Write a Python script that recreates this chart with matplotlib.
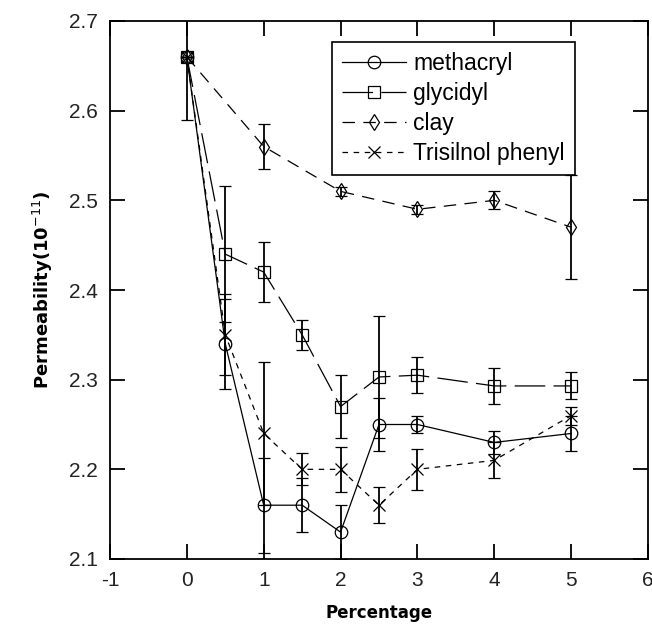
import numpy as np
import matplotlib
matplotlib.use("Agg")
import matplotlib.pyplot as plt

plt.rcParams["lines.scale_dashes"] = False

# ---------------------------------------------------------------- data
pct = [0, 0.5, 1, 1.5, 2, 2.5, 3, 4, 5]
pct_clay = [0, 1, 2, 3, 4, 5]

methacryl = [2.66, 2.34, 2.16, 2.16, 2.13, 2.25, 2.25, 2.23, 2.24]
methacryl_err = [0, 0.05, 0.053, 0.03, 0.03, 0.03, 0.01, 0.013, 0.02]

glycidyl = [2.66, 2.44, 2.42, 2.35, 2.27, 2.303, 2.305, 2.293, 2.293]
glycidyl_err = [0.07, 0.076, 0.033, 0.017, 0.035, 0.068, 0.02, 0.02, 0.015]

clay = [2.66, 2.56, 2.51, 2.49, 2.50, 2.47]
clay_err = [0, 0.025, 0.005, 0.005, 0.01, 0.058]

trisilnol = [2.66, 2.35, 2.24, 2.20, 2.20, 2.16, 2.20, 2.21, 2.26]
trisilnol_err = [0, 0.045, 0.08, 0.018, 0.025, 0.02, 0.023, 0.02, 0.01]

labels = ["methacryl", "glycidyl", "clay", "Trisilnol phenyl"]
xticks = [-1, 0, 1, 2, 3, 4, 5, 6]
yticks = [2.1, 2.2, 2.3, 2.4, 2.5, 2.6, 2.7]

TICK_FONT = "Liberation Sans"
LABEL_FONT = "DejaVu Sans"

fig = plt.figure(figsize=(6.52, 6.24), dpi=100)
ax = fig.add_axes([110 / 652, 1 - 559 / 624, 538 / 652, 538 / 624])

common = dict(color="k", ecolor="k", elinewidth=1.3, capsize=4.5, capthick=1.3,
              lw=0.9, mfc="none", mec="k", mew=0.9)

c1 = ax.errorbar(pct, methacryl, yerr=methacryl_err, marker="o", ms=9,
                 ls="-", **common)
c2 = ax.errorbar(pct, glycidyl, yerr=glycidyl_err, marker="s", ms=9,
                 ls=(0, (22, 6)), **common)
c3 = ax.errorbar(pct_clay, clay, yerr=clay_err, marker="d", ms=8,
                 ls=(0, (9, 6)), **common)
c4 = ax.errorbar(pct, trisilnol, yerr=trisilnol_err, marker="x", ms=9,
                 ls=(0, (4, 4)), **common)

ax.set_xlim(-1, 6)
ax.set_ylim(2.1, 2.7)
ax.set_xticks(xticks)
ax.set_yticks(yticks)
ax.set_xticklabels([str(t) for t in xticks], family=TICK_FONT, fontsize=15, color="#222")
ax.set_yticklabels([f"{t:.1f}" for t in yticks], family=TICK_FONT, fontsize=15, color="#222")
ax.tick_params(direction="in", length=11, width=1.3, top=True, right=True, pad=9)
for s in ax.spines.values():
    s.set_linewidth(1.3)

ax.set_xlabel("Percentage", family=LABEL_FONT, fontweight="bold", fontsize=12, labelpad=10)
ax.set_ylabel("Permeability(10$^{-11}$)", family=LABEL_FONT, fontweight="bold",
              fontsize=13, labelpad=10)

leg = ax.legend([c1.lines[0], c2.lines[0], c3.lines[0], c4.lines[0]], labels,
                loc="upper left", bbox_to_anchor=(0.4126, 0.961), borderaxespad=0,
                prop={"family": TICK_FONT, "size": 16.5}, numpoints=1,
                handlelength=2.8, handletextpad=0.3, labelspacing=0.3,
                fancybox=False, framealpha=1, edgecolor="k", borderpad=0.45)
leg.get_frame().set_linewidth(1.2)

fig.savefig("out.png", dpi=100)
